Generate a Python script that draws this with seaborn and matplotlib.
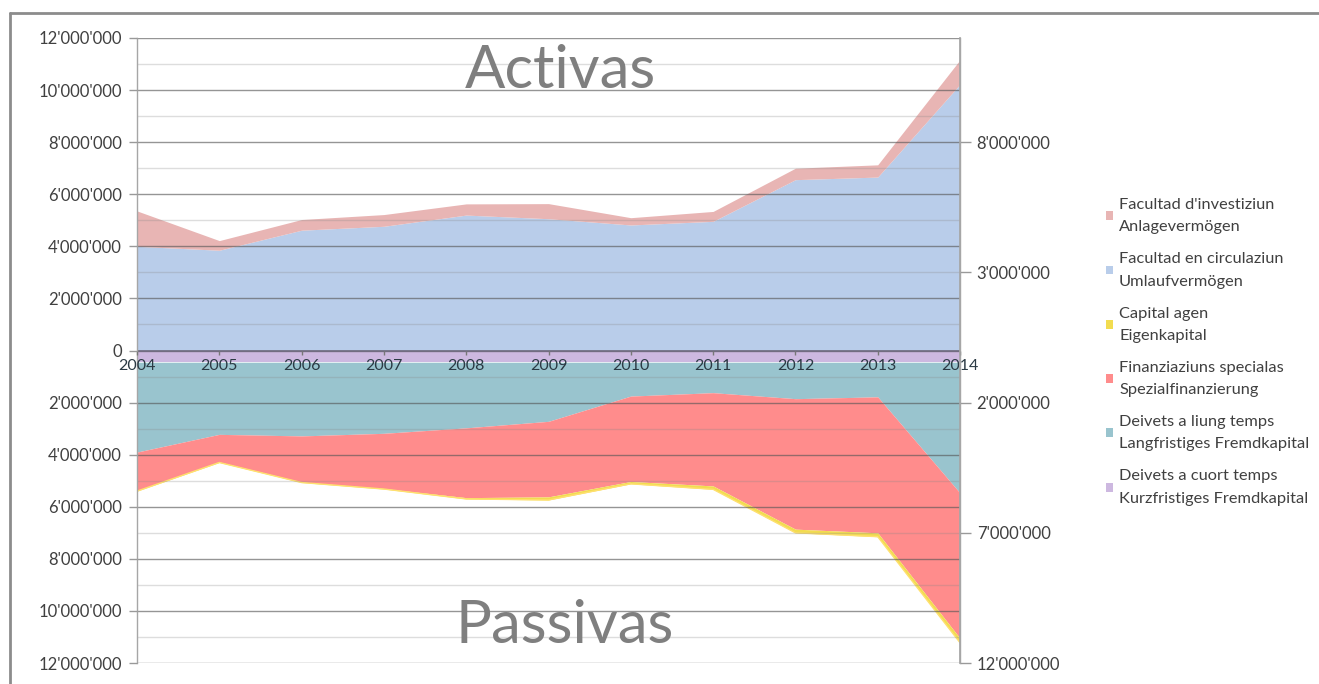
import numpy as np
import pandas as pd
import matplotlib
matplotlib.use("Agg")
import matplotlib.pyplot as plt
import seaborn as sns
from matplotlib.patches import Patch
from matplotlib.lines import Line2D
from matplotlib.ticker import FixedLocator, FuncFormatter

# ---------------- data ----------------
years = [2004, 2005, 2006, 2007, 2008, 2009, 2010, 2011, 2012, 2013, 2014]

# Activas
umlaufvermoegen = [4000000, 3850000, 4620000, 4770000, 5200000, 5060000, 4820000, 4960000, 6560000, 6660000, 10220000]
anlagevermoegen = [1360000, 370000, 410000, 450000, 430000, 580000, 280000, 380000, 440000, 470000, 940000]

# Passivas
kurzfristiges = [450000, 450000, 450000, 450000, 450000, 450000, 450000, 450000, 450000, 450000, 450000]
langfristiges = [3450000, 2770000, 2830000, 2730000, 2520000, 2270000, 1300000, 1170000, 1400000, 1330000, 5020000]
spezialfinanzierung = [1480000, 1060000, 1770000, 2120000, 2680000, 2900000, 3280000, 3580000, 5010000, 5220000, 5580000]
eigenkapital = [20000, 20000, 20000, 20000, 50000, 120000, 90000, 130000, 140000, 150000, 170000]

legend_labels = [
    "Facultad d'investiziun\nAnlagevermögen",
    "Facultad en circulaziun\nUmlaufvermögen",
    "Capital agen\nEigenkapital",
    "Finanziaziuns specialas\nSpezialfinanzierung",
    "Deivets a liung temps\nLangfristiges Fremdkapital",
    "Deivets a cuort temps\nKurzfristiges Fremdkapital",
]
left_ticks = [-12000000, -10000000, -8000000, -6000000, -4000000, -2000000, 0,
              2000000, 4000000, 6000000, 8000000, 10000000, 12000000]
right_ticks = [-12000000, -7000000, -2000000, 3000000, 8000000]

# ---------------- style ----------------
sns.set_theme(style="white")
plt.rcParams['font.family'] = ['Lato', 'DejaVu Sans']

c_anlage = '#E8B5B4'
c_umlauf = '#B9CDEA'
c_eigen = '#F2DC50'
c_spez = '#FF8C8C'
c_lang = '#99C4CE'
c_kurz = '#CDB8E0'
palette = sns.color_palette([c_anlage, c_umlauf, c_eigen, c_spez, c_lang, c_kurz])

W, H = 1319, 684
fig = plt.figure(figsize=(W / 100, H / 100), dpi=100)
fig.patch.set_facecolor('white')

x0, x1, ytop, ybot = 137, 960, 38, 663
ax = fig.add_axes([x0 / W, (H - ybot) / H, (x1 - x0) / W, (ybot - ytop) / H])

df = pd.DataFrame({
    'year': years,
    'umlauf': umlaufvermoegen,
    'anlage': anlagevermoegen,
    'kurz': kurzfristiges,
    'lang': langfristiges,
    'spez': spezialfinanzierung,
    'eigen': eigenkapital,
})

# Activas (positive side)
ax.stackplot(df['year'], df['umlauf'], df['anlage'],
             colors=[c_umlauf, c_anlage], linewidth=0, zorder=1)
# Passivas (negative side)
ax.stackplot(df['year'], -df['kurz'], -df['lang'], -df['spez'], -df['eigen'],
             colors=[c_kurz, c_lang, c_spez, c_eigen], linewidth=0, zorder=1)

# thin yellow edge for Eigenkapital (bottom boundary)
df['passiv_total'] = -(df['kurz'] + df['lang'] + df['spez'] + df['eigen'])
sns.lineplot(data=df, x='year', y='passiv_total', color='#FFE070', lw=1.0,
             ax=ax, zorder=2, legend=False)

ax.set_xlim(2004, 2014)
ax.set_ylim(-12000000, 12000000)

# gridlines (drawn above areas, semi-transparent)
for v in range(-12000000, 12000001, 1000000):
    if v % 2000000 == 0:
        ax.axhline(v, color='#555555', alpha=0.62, lw=1.0, zorder=3)
    else:
        ax.axhline(v, color='#888888', alpha=0.28, lw=1.0, zorder=3)
ax.axhline(0, color='#6f6a80', lw=1.2, zorder=3)


def fmt(v, pos=None):
    v = abs(int(round(v)))
    if v == 0:
        return "0"
    return f"{v:,}".replace(",", "'")


# y axis left
ax.yaxis.set_major_locator(FixedLocator(left_ticks))
ax.yaxis.set_major_formatter(FuncFormatter(fmt))
ax.tick_params(axis='y', which='major', direction='out', length=6, width=1,
               color='#999999', pad=5, labelsize=12, labelcolor='#404040', left=True)

# x axis through zero
ax.spines['bottom'].set_position(('data', 0))
ax.spines['bottom'].set_visible(False)
ax.set_xticks(years)
ax.set_xticklabels([str(y) for y in years])
ax.tick_params(axis='x', direction='out', length=3, width=1, color='#777777',
               pad=3, labelsize=11.5, labelcolor='#2b3a44', bottom=True)
ax.xaxis.set_zorder(8)
ax.yaxis.set_zorder(8)

ax.spines['top'].set_visible(False)
ax.spines['left'].set_color('#a6a6a6')
ax.spines['right'].set_color('#a6a6a6')
ax.spines['left'].set_linewidth(1.0)
ax.spines['right'].set_linewidth(1.0)
ax.spines['left'].set_zorder(4)
ax.set_xlabel('')
ax.set_ylabel('')

# right axis
ax2 = ax.twinx()
ax2.set_ylim(ax.get_ylim())
ax2.yaxis.set_major_locator(FixedLocator(right_ticks))
ax2.yaxis.set_major_formatter(FuncFormatter(fmt))
ax2.tick_params(axis='y', direction='out', length=8, width=1, color='#999999',
                pad=4, labelsize=12, labelcolor='#404040', right=True)
for s in ['top', 'left', 'bottom']:
    ax2.spines[s].set_visible(False)
ax2.spines['right'].set_color('#a6a6a6')
ax2.set_ylabel('')

# headings
ax.text(2009.15, 10080000, "Activas", ha='center', va='baseline',
        fontsize=43, color='#7f7f7f', zorder=7)
ax.text(2009.2, -11250000, "Passivas", ha='center', va='baseline',
        fontsize=43, color='#7f7f7f', zorder=7)

# legend
handles = [Patch(facecolor=c, edgecolor='none') for c in palette]
leg = fig.legend(handles, legend_labels, loc='upper left',
                 bbox_to_anchor=(1106 / W, 1 - 198 / H), frameon=False,
                 fontsize=11.8, handlelength=0.45, handleheight=0.45,
                 handletextpad=0.35, labelspacing=1.1, borderpad=0, borderaxespad=0,
                 labelcolor='#404040')
for t in leg.get_texts():
    t.set_linespacing(1.75)

# outer frame (top & left visible)
fig.add_artist(Line2D([10 / W, 1.0], [1 - 13 / H, 1 - 13 / H], color='#8c8c8c', lw=2,
                      transform=fig.transFigure))
fig.add_artist(Line2D([10 / W, 10 / W], [0, 1 - 13 / H], color='#8c8c8c', lw=2,
                      transform=fig.transFigure))

fig.savefig('out.png', dpi=100, facecolor='white')
